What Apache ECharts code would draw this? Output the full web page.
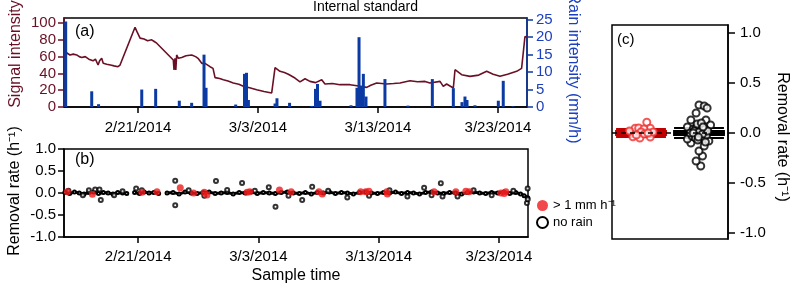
<!DOCTYPE html>
<html>
<head>
<meta charset="utf-8">
<script src="https://cdn.jsdelivr.net/npm/echarts@6/dist/echarts.min.js"></script>
<style>
  html, body { margin: 0; padding: 0; background: #fff; }
  #main { width: 798px; height: 285px; }
</style>
</head>
<body>
<div id="main"></div>
<script>
// days are counted from 2/21/2014 00:00
var tickDays = [0, 10, 20, 30];
var tickLabels = ['2/21/2014', '3/3/2014', '3/13/2014', '3/23/2014'];

// (a) signal intensity of the internal standard
var sigDay = [-6.17, -5.9, -5.67, -5.4, -5.11, -4.9, -4.69, -4.4, -4.1, -3.75, -3.55, -3.33, -3.2, -3.03, -2.9,
    -2.61, -2.3, -2.0, -1.67, -1.5, -1.36, -0.25, -0.1, 0.17, 0.5, 0.8, 1.14, 1.35, 1.56, 2.94, 3.0, 3.08,
    3.15, 3.22, 3.36, 3.64, 4.0, 4.47, 4.8, 5.0, 5.31, 5.58, 6.0, 6.25, 6.42, 6.8, 7.11, 7.5, 7.94, 8.4,
    8.78, 9.3, 9.89, 10.5, 11.14, 11.28, 11.42, 11.83, 12.2, 12.53, 13.08, 13.5, 13.92, 14.33, 14.8, 15.31,
    15.58, 16.2, 16.83, 17.67, 18.4, 19.06, 19.4, 19.89, 20.72, 21.3, 21.83, 22.67, 23.3, 23.92, 24.33,
    25.17, 25.44, 25.72, 26.0, 26.28, 26.42, 26.97, 27.67, 28.4, 29.06, 29.6, 30.17, 30.8, 31.56, 31.97,
    32.25, 32.39];
var sigVal = [68, 64, 62, 63, 62, 60, 59, 60, 57, 55, 57, 50, 55, 58, 52,
    51, 50, 49, 48, 50, 51, 95, 90, 82, 81, 79, 80, 78, 76, 56, 44, 58,
    44, 62, 58, 59, 61, 62, 60, 58, 52, 52, 48, 46, 35, 34, 32.5, 31, 28.6, 27,
    24.6, 23, 20.6, 18.5, 16.7, 15.5, 47, 42.5, 41, 39, 34.5, 30, 33.7, 30.5, 29, 32.5,
    27.4, 28, 26.6, 26.6, 25, 23.4, 26, 28.6, 27.4, 28, 28.6, 31.3, 30, 30.5, 28.6,
    30.5, 24.6, 27.4, 25, 22.6, 44.4, 38.5, 36.5, 38, 42.5, 39, 36.5, 39, 42.5, 46,
    84, 83];

// (a) rain intensity (mm/h)
var rainDay = [-6.03, -3.86, -3.29, 0.31, 1.47, 3.44, 4.47, 5.5, 5.67, 8.14, 8.875, 9.04, 9.2, 11.42, 11.58,
    12.63, 14.47, 14.79, 14.96, 15.17, 17.75, 18.25, 18.42, 18.58, 18.78, 19.0, 20.58, 22.5, 24.53, 26.28,
    27.0, 27.25, 27.42, 28.08, 30.03, 30.44, 31.25];
var rainVal = [24.5, 4.5, 0.8, 5.0, 5.2, 1.8, 1.2, 15, 5.5, 0.7, 9.5, 9.8, 2.0, 1.0, 2.5,
    1.2, 0.3, 5.2, 6.6, 1.8, 0.5, 5.5, 20, 6, 9.5, 3.0, 8.0, 0.4, 8.0, 5.4,
    1.4, 3.0, 2.0, 0.5, 1.8, 7.5, 0.2];

// (b) removal rate, no rain: dense band (null = gap in sampling)
var bandDay = [-6.1, -5.7, -5.3, -4.9, -4.5, -4.1, -3.7, -3.3, -2.9, -2.5, -2.1, -1.7, -1.3, -0.95, null,
    -0.3, 0.1, 0.5, 0.9, 1.3, 1.7, null,
    2.4, 2.9, 3.4, 3.9, 4.4, 4.9, 5.4, 5.9, 6.4, 6.9, 7.4, 7.9, 8.4, 8.9, 9.4, 9.9, 10.4, 10.9, 11.4, 11.9,
    12.4, 12.9, 13.4, 13.9, 14.4, 14.9, 15.4, 15.9, 16.4, 16.9, 17.4, 17.9, 18.4, 18.9, 19.4, 19.9, 20.4,
    20.9, 21.4, 21.9, 22.4, 22.9, 23.4, 23.9, 24.4, 24.9, 25.4, 25.9, 26.4, 26.9, 27.4, 27.9, 28.4, 28.9,
    29.4, 29.9, 30.4, 30.9, 31.4, 31.8, 32.1, 32.4];
var bandVal = [0.01, -0.01, 0.02, 0, -0.02, 0.01, 0.02, -0.01, 0.01, 0, -0.02, 0.01, 0, -0.01, null,
    0.01, -0.01, 0.02, 0, 0.01, -0.01, null,
    0, 0.01, -0.02, 0.02, 0, -0.01, 0.01, 0.02, -0.01, 0, 0.01, -0.02, 0.01, 0, 0.02, -0.01, 0.01, 0, -0.01,
    0.01, 0.02, 0, -0.01, 0.01, -0.02, 0.01, 0, 0.02, -0.01, 0.01, 0, -0.02, 0.01, 0.02, 0, -0.01, 0.01,
    0, 0.02, -0.01, 0.01, 0, -0.02, 0.01, 0.02, 0, -0.01, 0.01, 0, -0.02, 0.01, 0.02, 0, -0.01,
    0.01, 0, 0.02, -0.01, 0.01, -0.02, -0.06, -0.11];
// (b) no rain: scattered points off the band
var noRainDay = [-5.8, -4.6, -4.1, -3.58, -3.22, -3.11, -2.0, -1.3, -0.17, 0.3, 3.08, 3.08, 4.2, 5.5, 6.47,
    7.4, 8.64, 9.7, 10.86, 11.42, 12.5, 13.64, 14.47, 15.8, 17.39, 19.2, 20.9, 22.39, 23.78, 24.4, 25.17,
    25.31, 26.56, 27.9, 29.4, 31.2, 32.33, 32.39, 32.4];
var noRainVal = [0.05, -0.05, 0.06, 0.08, 0.08, -0.16, -0.05, 0.04, 0.1, 0.06, 0.28, -0.28, 0.06, -0.06, 0.27,
    0.07, 0.23, 0.05, 0.13, -0.31, -0.06, -0.16, 0.14, 0.05, -0.1, -0.06, 0.06, -0.08, 0.12, -0.05, 0.22,
    -0.08, -0.08, 0.06, -0.05, 0.05, -0.23, 0.1, -0.14];
// (b) rain > 1 mm/h
var rainyDay = [-5.89, -3.81, 0.31, 1.56, 3.5, 4.61, 5.5, 5.72, 9.06, 9.28, 11.75, 12.72, 15.03, 15.31, 18.5,
    18.92, 19.19, 20.67, 20.72, 24.61, 26.42, 27.25, 27.53, 30.17, 30.44, 30.58];
var rainyVal = [0.03, -0.03, 0.015, 0.03, 0.12, 0.0, 0.015, -0.045, 0.015, 0.03, 0.07, 0.03, 0.03, -0.02, 0.03,
    0.03, 0.04, 0.03, -0.02, 0.03, 0.03, 0.04, 0.03, 0.0, -0.01, 0.03];

// (c) box summaries [min, Q1, median, Q3, max]
var boxRain = [-0.04, -0.02, 0, 0.02, 0.04];
var boxNoRain = [-0.05, -0.02, 0, 0.02, 0.05];
// (c) individual points: horizontal spread inside group, value
var cRainX = [0.1, -0.1, -0.04, 0.16, 0.05, -0.14, 0.16, -0.02, -0.2, 0.21, 0.0, 0.06, -0.08, 0.12];
var cRainY = [0.107, 0.047, 0.05, 0.047, 0.04, -0.037, -0.04, -0.05, 0.02, 0.01, 0.01, -0.01, -0.02, 0.0];
var cNoRainX = [0.0, 0.09, 0.14, -0.05, 0.12, -0.14, 0.03, -0.05, 0.06, 0.0, 0.09, -0.14, 0.17, -0.2, 0.2,
    -0.2, -0.1, -0.05, 0.0, 0.05, 0.1, -0.12, -0.06, 0.02, 0.08, 0.13, -0.15, -0.08, 0.0, 0.06, 0.15, -0.02,
    -0.03, 0.04, -0.1, 0.11, -0.01, 0.07];
var cNoRainY = [0.28, 0.27, 0.25, 0.2, 0.13, 0.13, -0.33, -0.28, -0.23, -0.18, -0.13, -0.1, -0.08, -0.06, 0.08,
    0.06, 0.04, 0.05, 0.07, 0.03, 0.04, -0.03, -0.05, -0.06, -0.04, -0.02, 0.0, 0.02, 0.01, -0.01, 0.02, -0.07,
    0.09, 0.1, 0.0, -0.09, -0.04, 0.06];

var maroon = '#6a1025';
var blue = '#0c3aa3';
var red = '#ee1c1c';
var font = 'Liberation Sans, Arial, sans-serif';

function pairs(xs, ys) {
    return xs.map(function (x, i) {
        return (x === null || ys[i] === null) ? ['-', '-'] : [x, ys[i]];
    });
}
function groupPts(xs, ys, g) {
    return xs.map(function (x, i) { return [g + x, ys[i]]; });
}
function dateLabel(v) {
    var i = tickDays.indexOf(v);
    return i >= 0 ? tickLabels[i] : '';
}
function rateLabel(v) { return Number(v).toFixed(1); }

var chart = echarts.init(document.getElementById('main'), null, { renderer: 'canvas' });

var xCommon = {
    type: 'value', min: -6.17, max: 32.42,
    axisLine: { show: true, onZero: false, lineStyle: { color: '#000', width: 1.5 } },
    axisTick: { show: true, inside: false, length: 6, lineStyle: { color: '#000', width: 1.5 }, customValues: tickDays },
    axisLabel: { customValues: tickDays, formatter: dateLabel, fontSize: 15, fontFamily: font, color: '#000', margin: 13 },
    splitLine: { show: false }
};

var option = {
    animation: false,
    backgroundColor: '#fff',
    textStyle: { fontFamily: font },
    grid: [
        { left: 64, top: 18, width: 463, height: 89, show: true, borderColor: '#000', borderWidth: 1.5, outerBoundsMode: 'none' },
        { left: 64, top: 149, width: 464, height: 88, show: true, borderColor: '#000', borderWidth: 1.5, outerBoundsMode: 'none' },
        { left: 612, top: 25, width: 116, height: 214, show: true, borderColor: '#000', borderWidth: 1.5, outerBoundsMode: 'none' }
    ],
    xAxis: [
        Object.assign({ gridIndex: 0 }, xCommon),
        Object.assign({ gridIndex: 1 }, xCommon, { axisLabel: Object.assign({}, xCommon.axisLabel, { margin: 12 }) }),
        { gridIndex: 2, type: 'category', data: ['rain', 'norain'], boundaryGap: true,
          axisLine: { show: false, onZero: false }, axisTick: { show: false }, axisLabel: { show: false } },
        { gridIndex: 2, type: 'value', min: -0.5, max: 1.5, show: false, axisLine: { onZero: false } }
    ],
    yAxis: [
        { gridIndex: 0, type: 'value', min: 0, max: 106,
          axisLine: { show: true, onZero: false, lineStyle: { color: maroon, width: 1.5 } },
          axisTick: { show: true, length: 6, lineStyle: { color: maroon, width: 1.5 }, customValues: [0, 20, 40, 60, 80, 100] },
          axisLabel: { customValues: [0, 20, 40, 60, 80, 100], fontSize: 15, color: maroon, margin: 8 },
          splitLine: { show: false } },
        { gridIndex: 0, type: 'value', position: 'right', min: 0, max: 25.5,
          axisLine: { show: true, onZero: false, lineStyle: { color: blue, width: 1.5 } },
          axisTick: { show: true, length: 6, lineStyle: { color: blue, width: 1.5 }, customValues: [0, 5, 10, 15, 20, 25] },
          axisLabel: { customValues: [0, 5, 10, 15, 20, 25], fontSize: 15, color: '#1b3fbf', margin: 9 },
          splitLine: { show: false } },
        { gridIndex: 1, type: 'value', min: -1, max: 1,
          axisLine: { show: true, onZero: false, lineStyle: { color: '#000', width: 1.5 } },
          axisTick: { show: true, length: 6, lineStyle: { color: '#000', width: 1.5 }, customValues: [-1, -0.5, 0, 0.5, 1] },
          axisLabel: { customValues: [-1, -0.5, 0, 0.5, 1], formatter: rateLabel, fontSize: 15, color: '#000', margin: 8 },
          splitLine: { show: false } },
        { gridIndex: 2, type: 'value', position: 'right', min: -1.06, max: 1.08,
          axisLine: { show: true, onZero: false, lineStyle: { color: '#000', width: 1.5 } },
          axisTick: { show: true, length: 7, lineStyle: { color: '#000', width: 1.5 }, customValues: [-1, -0.5, 0, 0.5, 1] },
          axisLabel: { customValues: [-1, -0.5, 0, 0.5, 1], formatter: rateLabel, fontSize: 15, color: '#000', margin: 12 },
          splitLine: { show: false } }
    ],
    legend: {
        left: 531, top: 194, orient: 'vertical', itemWidth: 11, itemHeight: 11, itemGap: 4,
        textStyle: { fontSize: 13, fontFamily: font, color: '#000' },
        data: [
            { name: '> 1 mm h⁻¹', icon: 'circle' },
            { name: 'no rain', icon: 'emptyCircle' }
        ]
    },
    series: [
        { name: 'signal', type: 'line', xAxisIndex: 0, yAxisIndex: 0, data: pairs(sigDay, sigVal),
          symbol: 'none', lineStyle: { color: maroon, width: 1.6 }, itemStyle: { color: maroon }, z: 2 },
        { name: 'rain intensity', type: 'bar', xAxisIndex: 0, yAxisIndex: 1, data: pairs(rainDay, rainVal),
          barWidth: 3, itemStyle: { color: blue }, z: 3 },

        { name: 'no rain', type: 'line', xAxisIndex: 1, yAxisIndex: 2, data: pairs(bandDay, bandVal),
          symbol: 'emptyCircle', symbolSize: 3, showSymbol: true, connectNulls: false,
          lineStyle: { color: '#000', width: 3 }, itemStyle: { color: '#000', borderWidth: 1 }, z: 2 },
        { name: 'no rain', type: 'scatter', xAxisIndex: 1, yAxisIndex: 2, data: pairs(noRainDay, noRainVal),
          symbol: 'emptyCircle', symbolSize: 4, itemStyle: { color: '#000', borderWidth: 1 }, z: 3 },
        { name: '> 1 mm h⁻¹', type: 'scatter', xAxisIndex: 1, yAxisIndex: 2, data: pairs(rainyDay, rainyVal),
          symbol: 'circle', symbolSize: 7, itemStyle: { color: red }, z: 4 },

        { name: 'box', type: 'boxplot', xAxisIndex: 2, yAxisIndex: 3, boxWidth: ['86%', '86%'],
          data: [
              { value: boxRain, itemStyle: { color: '#d40000', borderColor: '#c00000', borderWidth: 2 } },
              { value: boxNoRain, itemStyle: { color: '#000', borderColor: '#000', borderWidth: 2 } }
          ],
          markLine: { silent: true, symbol: 'none', label: { show: false },
              lineStyle: { color: '#000', type: [5, 4], width: 1.5 }, data: [{ yAxis: 0 }] },
          z: 2 },
        { name: 'c rain', type: 'scatter', xAxisIndex: 3, yAxisIndex: 3, data: groupPts(cRainX, cRainY, 0),
          symbol: 'emptyCircle', symbolSize: 7, itemStyle: { color: '#f03030', borderWidth: 1 }, z: 4 },
        { name: 'c no rain', type: 'scatter', xAxisIndex: 3, yAxisIndex: 3, data: groupPts(cNoRainX, cNoRainY, 1),
          symbol: 'emptyCircle', symbolSize: 7, itemStyle: { color: '#000', borderWidth: 1 }, z: 4 }
    ],
    graphic: [
        { type: 'text', left: 313, top: 0, style: { text: 'Internal standard', font: '14px ' + font, fill: '#000' } },
        { type: 'text', left: 75, top: 24, style: { text: '(a)', font: '16px ' + font, fill: '#000' } },
        { type: 'text', left: 75, top: 152, style: { text: '(b)', font: '16px ' + font, fill: '#000' } },
        { type: 'text', left: 617, top: 32, style: { text: '(c)', font: '15px ' + font, fill: '#000' } },
        { type: 'text', x: 16, y: 54, rotation: Math.PI / 2,
          style: { text: 'Signal intensity', font: '16px ' + font, fill: maroon, align: 'center', verticalAlign: 'middle' } },
        { type: 'text', x: 573, y: 68, rotation: -Math.PI / 2,
          style: { text: 'Rain intensity (mm/h)', font: '16px ' + font, fill: '#1b3fbf', align: 'center', verticalAlign: 'middle' } },
        { type: 'text', x: 15, y: 191, rotation: Math.PI / 2,
          style: { text: 'Removal rate (h⁻¹)', font: '16px ' + font, fill: '#000', align: 'center', verticalAlign: 'middle' } },
        { type: 'text', x: 296, y: 276,
          style: { text: 'Sample time', font: '16px ' + font, fill: '#000', align: 'center', verticalAlign: 'middle' } },
        { type: 'text', x: 782, y: 137, rotation: -Math.PI / 2,
          style: { text: 'Removal rate (h⁻¹)', font: '16px ' + font, fill: '#000', align: 'center', verticalAlign: 'middle' } }
    ]
};

chart.setOption(option);
</script>
</body>
</html>
